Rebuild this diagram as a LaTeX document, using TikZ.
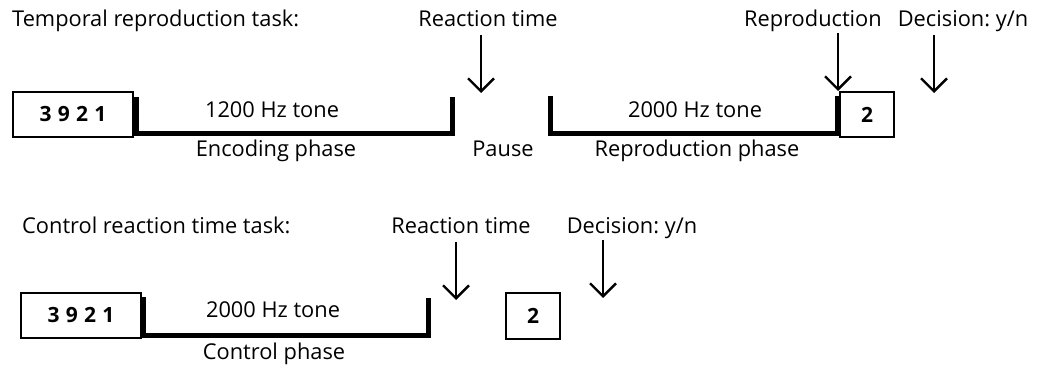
\documentclass[tikz,border=0pt]{standalone}
\usepackage{fontspec}
\setmainfont{Open Sans}
\frenchspacing
\usetikzlibrary{arrows.meta}
\begin{document}
\begin{tikzpicture}[x=1pt,y=-1pt,
  lbl/.style={font=\fontsize{21.8}{25}\selectfont, inner sep=0pt, anchor=base},
  numbox/.style={draw, line width=1.5pt, font=\fontsize{21}{24}\selectfont\bfseries, inner sep=0pt},
  bracket/.style={line width=5pt, miter limit=10},
  arr/.style={line width=2.4pt, -{Straight Barb[length=13pt,width=26pt,line width=2.4pt]}}
]
\useasboundingbox (0,0) rectangle (1037,371);

% ---------- top row ----------
\node[lbl, anchor=base west] (t1) at (12,27) {Temporal reproduction task:};
\node[lbl] (rt1) at (488,27) {Reaction time};
\node[lbl] (rep) at (813,27) {Reproduction};
\node[lbl] (dec1) at (963,27) {Decision: y/n};

\node[numbox, minimum width=120pt, minimum height=45pt] (b1) at (73,114.5) {3\hspace{0.3em}9\hspace{0.3em}2\hspace{0.3em}1};
\coordinate (e1a) at (136.5,97);
\coordinate (e1b) at (136.5,134);
\coordinate (e1c) at (452.5,134);
\coordinate (e1d) at (452.5,97);
\draw[bracket] (e1a) -- (e1b) -- (e1c) -- (e1d);
\node[lbl] (tone1) at (272,118) {1200 Hz tone};
\node[lbl] (enc) at (276,157) {Encoding phase};
\node[lbl] (pause) at (503,157) {Pause};

\coordinate (r1a) at (550.5,96);
\coordinate (r1b) at (550.5,134);
\coordinate (r1c) at (837,134);
\coordinate (r1d) at (837,96);
\draw[bracket] (r1a) -- (r1b) -- (r1c) -- (r1d);
\node[lbl] (tone2) at (695,118) {2000 Hz tone};
\node[lbl] (repph) at (697,157) {Reproduction phase};
\node[numbox, minimum width=54pt, minimum height=45pt] (b2) at (867,114.5) {2};

\coordinate (a1s) at (481,35);
\coordinate (a1e) at (481,93);
\draw[arr] (a1s) -- (a1e);
\coordinate (a2s) at (838,33);
\coordinate (a2e) at (838,91);
\draw[arr] (a2s) -- (a2e);
\coordinate (a3s) at (934,35);
\coordinate (a3e) at (934,93);
\draw[arr] (a3s) -- (a3e);

% ---------- bottom row ----------
\node[lbl, anchor=base west] (t2) at (22,234) {Control reaction time task:};
\node[lbl] (rt2) at (461,234) {Reaction time};
\node[lbl] (dec2) at (632,234) {Decision: y/n};

\node[numbox, minimum width=120pt, minimum height=45pt] (b3) at (81,315.5) {3\hspace{0.3em}9\hspace{0.3em}2\hspace{0.3em}1};
\coordinate (c1a) at (143.5,297);
\coordinate (c1b) at (143.5,336);
\coordinate (c1c) at (428,336);
\coordinate (c1d) at (428,298);
\draw[bracket] (c1a) -- (c1b) -- (c1c) -- (c1d);
\node[lbl] (tone3) at (273,318) {2000 Hz tone};
\node[lbl] (ctl) at (274,360) {Control phase};
\node[numbox, minimum width=54pt, minimum height=46pt] (b4) at (533,316) {2};

\coordinate (a4s) at (456,242);
\coordinate (a4e) at (456,300);
\draw[arr] (a4s) -- (a4e);
\coordinate (a5s) at (603,240);
\coordinate (a5e) at (603,298);
\draw[arr] (a5s) -- (a5e);
\end{tikzpicture}
\end{document}
